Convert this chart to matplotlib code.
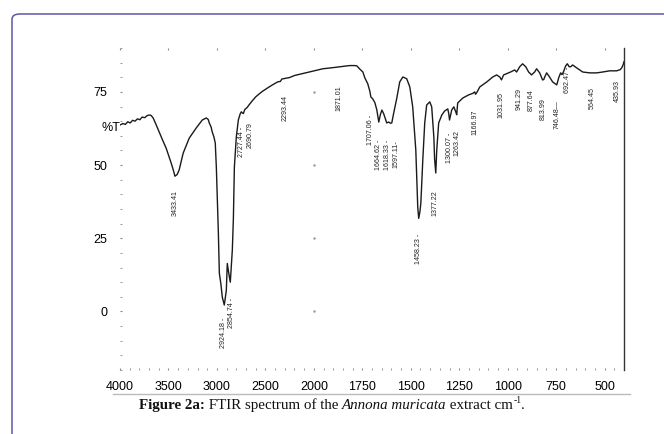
import numpy as np
import matplotlib
matplotlib.use('Agg')
import matplotlib.pyplot as plt
from matplotlib.patches import FancyBboxPatch
from matplotlib.lines import Line2D

# spectrum (wavenumber cm-1, %T)
wavenumber = [4000, 3970, 3945, 3920, 3895, 3870, 3845, 3820, 3795, 3772, 3745, 3720, 3700, 3680, 3658,
              3630, 3596, 3560, 3524, 3472, 3450, 3433, 3410, 3390, 3348, 3286, 3213, 3151, 3110, 3090,
              3079, 3060, 3048, 3030, 3017, 3006, 2995, 2985, 2975, 2960, 2944, 2924, 2903, 2893, 2880,
              2862, 2850, 2841, 2830, 2820, 2800, 2779, 2760, 2748, 2737, 2727, 2715, 2706, 2690, 2670,
              2634, 2600, 2561, 2530, 2480, 2427, 2375, 2345, 2330, 2300, 2251, 2200, 2150, 2075, 2000,
              1954, 1900, 1866, 1840, 1814, 1790, 1778, 1763, 1747, 1737, 1722, 1711, 1706, 1696, 1685,
              1675, 1665, 1657, 1649, 1640, 1634, 1624, 1618, 1613, 1605, 1598, 1588, 1572, 1557, 1541,
              1521, 1505, 1490, 1474, 1464, 1459, 1453, 1448, 1438, 1428, 1418, 1402, 1392, 1381, 1377,
              1371, 1366, 1356, 1340, 1325, 1309, 1304, 1300, 1295, 1289, 1278, 1268, 1263, 1258, 1232,
              1201, 1180, 1170, 1166, 1160, 1144, 1108, 1077, 1057, 1041, 1032, 1021, 985, 964, 954,
              938, 923, 907, 892, 877, 861, 851, 835, 820, 814, 809, 799, 784, 768, 747,
              737, 727, 720, 712, 701, 692, 683, 675, 665, 644, 613, 577, 541, 510, 474,
              438, 420, 412, 405, 400]
transmittance = [63.7, 64.2, 63.9, 64.8, 64.4, 65.3, 65.0, 65.8, 65.5, 66.4, 66.2, 66.9, 67.1, 67.0, 66.1,
                 64.0, 61.3, 58.5, 55.8, 50.7, 48.3, 46.2, 46.8, 48.3, 54.1, 59.2, 62.7, 65.4, 66.1, 65.6,
                 64.4, 63.0, 61.3, 59.5, 57.5, 49.3, 38.0, 26.7, 13.0, 9.6, 4.8, 2.2, 7.2, 16.4, 13.5,
                 10.0, 16.0, 21.0, 32.0, 49.3, 59.6, 65.4, 67.5, 68.2, 67.8, 67.6, 68.8, 69.2, 69.6, 70.5,
                 72.0, 73.3, 74.4, 75.2, 76.3, 77.4, 78.4, 78.6, 79.4, 79.6, 79.9, 80.6, 81.0, 81.6, 82.2,
                 82.9, 83.3, 83.6, 83.8, 84.0, 84.0, 83.9, 82.8, 81.8, 79.8, 77.8, 75.2, 73.3, 72.6, 71.3,
                 68.8, 64.7, 67.2, 68.8, 67.6, 66.4, 64.4, 64.6, 64.7, 64.3, 64.4, 67.8, 72.9, 78.4, 80.1,
                 79.5, 76.7, 69.9, 55.1, 35.6, 31.8, 34.0, 37.0, 51.7, 64.4, 70.5, 71.6, 69.9, 59.6, 52.0,
                 47.3, 55.1, 64.4, 67.1, 68.5, 69.2, 67.5, 65.4, 67.0, 68.8, 69.9, 68.2, 67.2, 71.2, 72.9,
                 74.0, 74.5, 75.0, 74.2, 74.7, 76.7, 78.4, 80.1, 80.8, 80.1, 79.1, 80.8, 81.8, 82.5, 81.8,
                 83.6, 84.6, 83.6, 81.8, 80.8, 81.8, 82.9, 81.5, 79.1, 79.2, 80.1, 81.5, 80.1, 78.4, 77.4,
                 79.8, 81.5, 80.9, 81.9, 83.9, 84.6, 83.6, 83.6, 84.2, 83.2, 81.8, 81.5, 81.5, 81.8, 82.2,
                 82.2, 82.6, 83.2, 84.2, 85.3]

peak_text = ['3433.41', '2924.18 -', '2854.74 -', '2727.44 -', '2690.79', '2293.44', '1871.01', '1707.06 -',
             '1664.62 -', '1618.33 -', '1597.11-', '1458.23 -', '1377.22', '1300.07 -', '1263.42', '1166.97',
             '1031.95', '941.29', '877.64', '813.99', '746.48\u2014', '692.47 - -', '564.45', '435.93']
# where each label stands on the wavenumber axis (a few are nudged aside in the original)
label_x = [3433, 2935, 2850, 2745, 2654, 2293, 1871, 1707, 1665, 1618,
           1574, 1458, 1377, 1300, 1263, 1167, 1032, 941, 878, 814,
           746, 692, 564, 436]
label_top = [41.4, -2.1, 4.8, 63.0, 64.7, 74.0, 77.4, 67.1, 58.6, 58.6,
             58.6, 26.7, 41.4, 61.0, 62.0, 68.8, 75.0, 76.4, 75.7, 73.0,
             72.3, 85.0, 76.7, 79.1]

x_major = [4000, 3500, 3000, 2500, 2000, 1750, 1500, 1250, 1000, 750, 500]
y_major = [0, 25, 50, 75]

# FTIR axis: half the scale above 2000 cm-1
def forward(w):
    w = np.asarray(w, dtype=float)
    return np.where(w <= 2000, w / 250.0, 8 + (w - 2000) / 500.0)

def inverse(u):
    u = np.asarray(u, dtype=float)
    return np.where(u <= 8, u * 250.0, 2000 + (u - 8) * 500.0)

tick_font = ['Liberation Sans Narrow', 'Liberation Sans']

fig = plt.figure(figsize=(6.64, 4.34), dpi=100)
ax = fig.add_axes([120 / 664, 1 - 370 / 434, 504 / 664, 322 / 434])

ax.plot(wavenumber, transmittance, color='#1a1a1a', lw=1.0)
ax.set_xscale('function', functions=(forward, inverse))
ax.set_xlim(4000, 400)
ax.set_ylim(-20, 90)

for pos, txt, top in zip(label_x, peak_text, label_top):
    ax.text(pos, top, txt, rotation=90, ha='center', va='top', fontsize=5.1,
            family=tick_font, color='#222222')

# faint grid dots at the 2000 column
ax.plot([2000] * len(y_major), y_major, ls='none', marker='.', ms=1.5, color='#999999')

for side in ['left', 'bottom', 'top']:
    ax.spines[side].set_visible(False)
ax.spines['right'].set_color('#333333')
ax.spines['right'].set_linewidth(1.0)

ax.set_xticks(x_major)
ax.set_xticklabels([str(v) for v in x_major])
ax.set_xticks(list(range(4000, 2000, -100)) + list(range(2000, 399, -50)), minor=True)
ax.set_yticks(y_major)
ax.set_yticks(list(range(-20, 91, 5)), minor=True)
ax.tick_params(axis='x', which='both', top=True, bottom=True, direction='in', length=1.5,
               color='#888888', pad=8)
ax.tick_params(axis='x', which='minor', top=False)
ax.tick_params(axis='y', which='both', left=True, right=False, direction='in', length=1.5,
               color='#888888', pad=9)
for lab in ax.get_xticklabels() + ax.get_yticklabels():
    lab.set_family(tick_font)
    lab.set_fontsize(9)
    lab.set_color('#000000')

ax.text(-0.017, 62.7, '%T', transform=ax.get_yaxis_transform(), ha='center', va='center',
        fontsize=9, family=tick_font, color='#000000')

# separator
fig.add_artist(Line2D([113 / 664, 630 / 664], [1 - 394 / 434, 1 - 394 / 434],
                      color='#bbbbbb', lw=1.0))

# caption built piece by piece: bold, plain, italic, plain, superscript, plain
cap_y = 1 - 409 / 434
cap_parts = [('Figure 2a:', 'bold', 'normal', 10.8, 0.0),
             (' FTIR spectrum of the ', 'normal', 'normal', 10.8, 0.0),
             ('Annona muricata', 'normal', 'italic', 10.8, 0.0),
             (' extract cm', 'normal', 'normal', 10.8, 0.0),
             ('-1', 'normal', 'normal', 7.0, 0.013),
             ('.', 'normal', 'normal', 10.8, 0.0)]
renderer = fig.canvas.get_renderer()
pieces = []
x = 0.0
for s, weight, style, size, rise in cap_parts:
    t = fig.text(x, cap_y + rise, s, ha='left', va='baseline', fontsize=size,
                 family='Liberation Serif', fontweight=weight, fontstyle=style, color='#111111')
    w = t.get_window_extent(renderer).width / fig.bbox.width
    pieces.append(t)
    x += w
shift = 0.5 - x / 2
for t in pieces:
    px, py = t.get_position()
    t.set_position((px + shift, py))

# rounded frame
fig.add_artist(FancyBboxPatch((12 / 664, -0.2), 1.2, 1 - 14 / 434 + 0.2,
                              boxstyle='round,pad=0,rounding_size=0.012',
                              transform=fig.transFigure, fill=False,
                              edgecolor='#5b57a3', lw=1.1, clip_on=False))

fig.savefig('out.png', dpi=100)
